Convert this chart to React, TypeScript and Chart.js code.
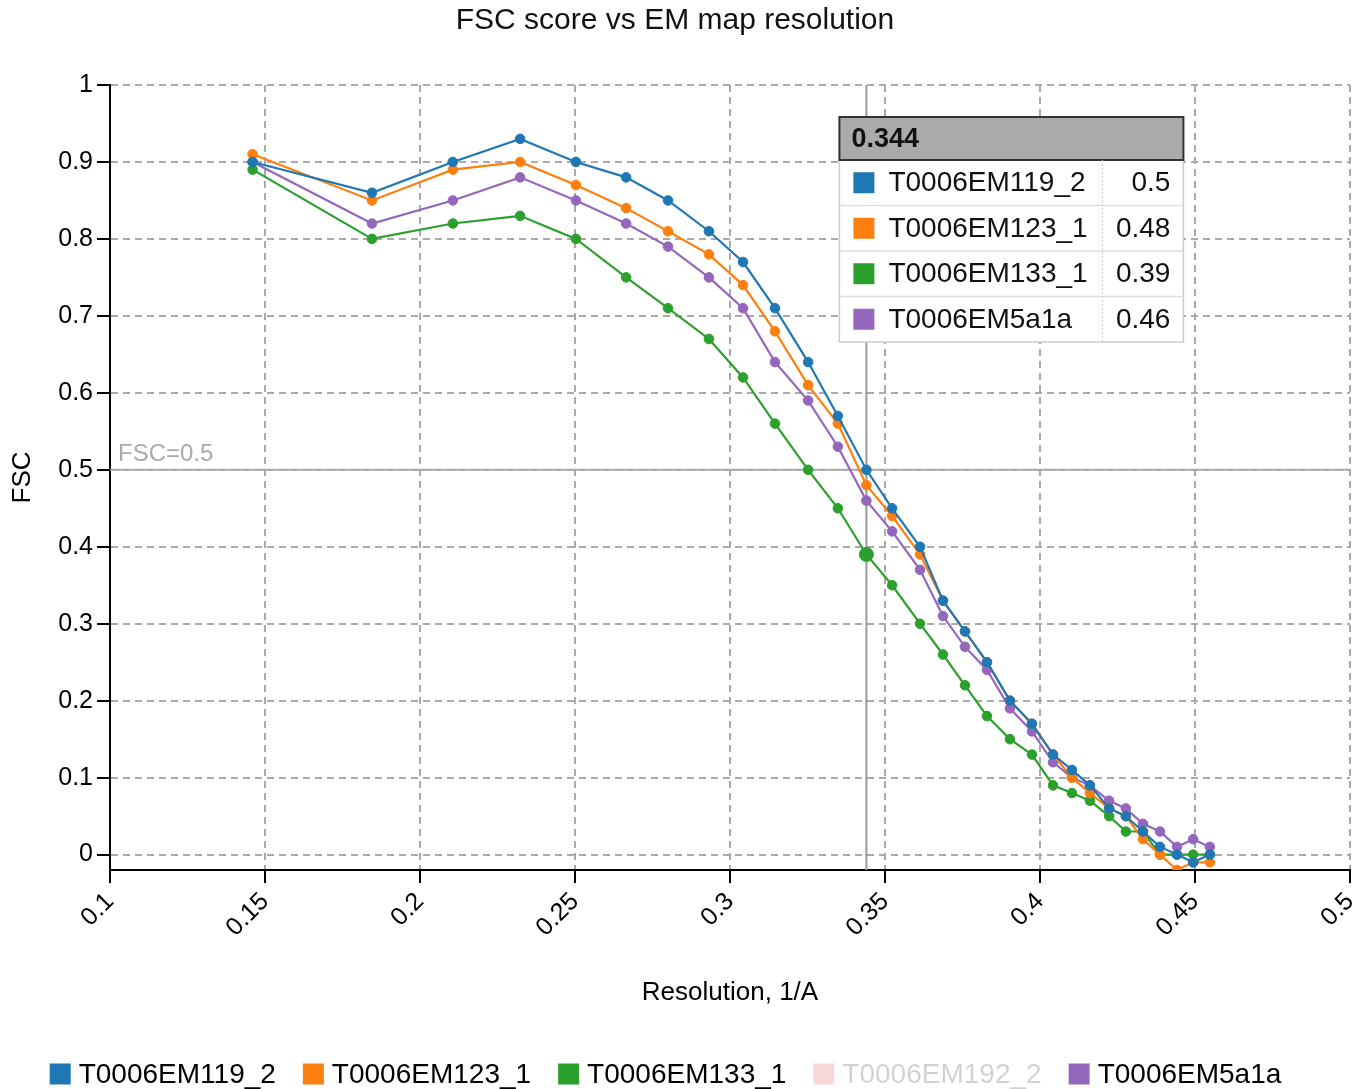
import React, { useEffect, useRef } from "react";
import { Chart, registerables } from "chart.js";

Chart.register(...registerables);

// ---- data ----
const resolution = [
  0.146, 0.1845, 0.2106, 0.2323, 0.2503, 0.2665, 0.28, 0.2932, 0.3042, 0.3145,
  0.3252, 0.3348, 0.344, 0.3523, 0.3613, 0.3687, 0.3758, 0.3829, 0.3903, 0.3974,
  0.4042, 0.4103, 0.4161, 0.4223, 0.4277, 0.4332, 0.4387, 0.4442, 0.4494, 0.4548,
];
const seriesNames = ["T0006EM119_2", "T0006EM123_1", "T0006EM133_1", "T0006EM192_2", "T0006EM5a1a"];
const seriesColors = ["#1f77b4", "#ff7f0e", "#2ca02c", "#d62728", "#9467bd"];
const em119_2 = [
  0.9, 0.86, 0.9, 0.93, 0.9, 0.88, 0.85, 0.81, 0.77, 0.71,
  0.64, 0.57, 0.5, 0.45, 0.4, 0.33, 0.29, 0.25, 0.2, 0.17,
  0.13, 0.11, 0.09, 0.06, 0.05, 0.03, 0.01, 0.0, -0.01, 0.0,
];
const em123_1 = [
  0.91, 0.85, 0.89, 0.9, 0.87, 0.84, 0.81, 0.78, 0.74, 0.68,
  0.61, 0.56, 0.48, 0.44, 0.39, 0.33, 0.29, 0.25, 0.2, 0.17,
  0.13, 0.1, 0.08, 0.06, 0.05, 0.02, 0.0, -0.02, -0.01, -0.01,
];
const em133_1 = [
  0.89, 0.8, 0.82, 0.83, 0.8, 0.75, 0.71, 0.67, 0.62, 0.56,
  0.5, 0.45, 0.39, 0.35, 0.3, 0.26, 0.22, 0.18, 0.15, 0.13,
  0.09, 0.08, 0.07, 0.05, 0.03, 0.03, 0.0, 0.0, 0.0, 0.0,
];
const em192_2: number[] = []; // hidden series (toggled off in the legend)
const em5a1a = [
  0.9, 0.82, 0.85, 0.88, 0.85, 0.82, 0.79, 0.75, 0.71, 0.64,
  0.59, 0.53, 0.46, 0.42, 0.37, 0.31, 0.27, 0.24, 0.19, 0.16,
  0.12, 0.1, 0.09, 0.07, 0.06, 0.04, 0.03, 0.01, 0.02, 0.01,
];
const seriesValues = [em119_2, em123_1, em133_1, em192_2, em5a1a];
const seriesHidden = [false, false, false, true, false];
const xTicks = [0.1, 0.15, 0.2, 0.25, 0.3, 0.35, 0.4, 0.45, 0.5];
const yTicks = [0, 0.1, 0.2, 0.3, 0.4, 0.5, 0.6, 0.7, 0.8, 0.9, 1];
const hoverIndex = 12;
const hoverSeries = 2;
const thresholdValue = 0.5;
const thresholdLabel = "FSC=0.5";
const chartTitle = "FSC score vs EM map resolution";
const xTitle = "Resolution, 1/A";
const yTitle = "FSC";

const FONT = "'Liberation Sans', Arial, Helvetica, sans-serif";

const fmt = (v: number) => String(+v.toFixed(3));

const refLinesPlugin = {
  id: "refLines",
  beforeDatasetsDraw(chart: any) {
    const { ctx, chartArea } = chart;
    const xs = chart.scales.x;
    const ys = chart.scales.y;
    ctx.save();
    const ty = ys.getPixelForValue(thresholdValue);
    ctx.strokeStyle = "#aaaaaa";
    ctx.lineWidth = 2;
    ctx.setLineDash([]);
    ctx.beginPath();
    ctx.moveTo(chartArea.left, ty);
    ctx.lineTo(chartArea.right, ty);
    ctx.stroke();
    ctx.fillStyle = "#aaaaaa";
    ctx.font = `24px ${FONT}`;
    ctx.textAlign = "left";
    ctx.textBaseline = "alphabetic";
    ctx.fillText(thresholdLabel, chartArea.left + 8, ty - 9);
    const fx = xs.getPixelForValue(resolution[hoverIndex]);
    ctx.strokeStyle = "#999999";
    ctx.beginPath();
    ctx.moveTo(fx, chartArea.top);
    ctx.lineTo(fx, chartArea.bottom);
    ctx.stroke();
    ctx.restore();
  },
};

const overlayPlugin = {
  id: "overlay",
  afterDraw(chart: any) {
    const { ctx, chartArea, width } = chart;
    const xs = chart.scales.x;
    ctx.save();
    // ---- tooltip table ----
    const fx = xs.getPixelForValue(resolution[hoverIndex]);
    const left = fx - 27;
    const top = chartArea.top + 32;
    const w = 344;
    const headH = 43;
    const rowH = 45.5;
    const rows = seriesNames
      .map((n, i) => ({ n, i }))
      .filter((r) => !seriesHidden[r.i]);
    const bodyTop = top + headH;
    const bodyH = rows.length * rowH;
    ctx.fillStyle = "#ffffff";
    ctx.fillRect(left, bodyTop, w, bodyH);
    ctx.strokeStyle = "#cccccc";
    ctx.lineWidth = 1.5;
    ctx.strokeRect(left, bodyTop, w, bodyH);
    ctx.fillStyle = "#aaaaaa";
    ctx.fillRect(left, top, w, headH);
    ctx.strokeStyle = "#333333";
    ctx.lineWidth = 2;
    ctx.strokeRect(left, top, w, headH);
    ctx.fillStyle = "#111111";
    ctx.font = `bold 27px ${FONT}`;
    ctx.textBaseline = "middle";
    ctx.textAlign = "left";
    ctx.fillText(resolution[hoverIndex].toFixed(3), left + 12, top + headH / 2 + 1);
    ctx.strokeStyle = "#cccccc";
    ctx.lineWidth = 1;
    ctx.setLineDash([2, 2]);
    ctx.beginPath();
    ctx.moveTo(left + 263, bodyTop);
    ctx.lineTo(left + 263, bodyTop + bodyH);
    ctx.stroke();
    ctx.setLineDash([]);
    rows.forEach((r, k) => {
      const ry = bodyTop + k * rowH;
      if (k > 0) {
        ctx.strokeStyle = "#dddddd";
        ctx.lineWidth = 1.5;
        ctx.beginPath();
        ctx.moveTo(left, ry);
        ctx.lineTo(left + w, ry);
        ctx.stroke();
      }
      const cy = ry + rowH / 2;
      ctx.fillStyle = seriesColors[r.i];
      ctx.fillRect(left + 14, cy - 10.5, 21, 21);
      ctx.fillStyle = "#111111";
      ctx.font = `28px ${FONT}`;
      ctx.textAlign = "left";
      ctx.fillText(r.n, left + 49, cy + 1);
      ctx.textAlign = "right";
      ctx.fillText(fmt(seriesValues[r.i][hoverIndex]), left + 331, cy + 1);
    });

    // ---- legend ----
    ctx.font = `28px ${FONT}`;
    const box = 21;
    const gap = 8;
    const spacing = 27;
    const widths = seriesNames.map((n) => ctx.measureText(n).width);
    const total =
      widths.reduce((a, b) => a + b + box + gap, 0) + spacing * (seriesNames.length - 1);
    let x = (width - total) / 2 - 19;
    const ly = 1074;
    seriesNames.forEach((n, i) => {
      const hidden = seriesHidden[i];
      ctx.globalAlpha = hidden ? 0.18 : 1;
      ctx.fillStyle = seriesColors[i];
      ctx.fillRect(x, ly - box / 2, box, box);
      ctx.fillStyle = "#000000";
      ctx.textAlign = "left";
      ctx.textBaseline = "middle";
      ctx.fillText(n, x + box + gap, ly + 1);
      x += box + gap + widths[i] + spacing;
    });
    ctx.globalAlpha = 1;
    ctx.restore();
  },
};

export default function App() {
  const ref = useRef<HTMLCanvasElement | null>(null);

  useEffect(() => {
    if (!ref.current) return;
    const datasets = seriesNames.map((name, si) => ({
      label: name,
      data: seriesValues[si].map((v, i) => ({ x: resolution[i], y: v })),
      hidden: seriesHidden[si],
      borderColor: seriesColors[si],
      backgroundColor: seriesColors[si],
      pointBackgroundColor: seriesColors[si],
      pointBorderColor: seriesColors[si],
      borderWidth: 2.2,
      pointBorderWidth: 1,
      pointRadius: (c: any) => (si === hoverSeries && c.dataIndex === hoverIndex ? 7 : 4.8),
      tension: 0,
      fill: false,
    }));

    const chart = new Chart(ref.current, {
      type: "line",
      data: { datasets },
      plugins: [refLinesPlugin, overlayPlugin],
      options: {
        animation: false,
        responsive: true,
        maintainAspectRatio: false,
        layout: { padding: { left: 0, right: 19, top: 0, bottom: 60 } },
        plugins: {
          legend: { display: false },
          tooltip: { enabled: false },
          title: {
            display: true,
            text: chartTitle,
            color: "#111111",
            font: { family: FONT, size: 30, weight: "normal" },
            padding: { top: 3, bottom: 46 },
          },
        },
        scales: {
          x: {
            type: "linear",
            position: "bottom",
            min: 0.1,
            max: 0.5,
            afterBuildTicks: (s: any) => {
              s.ticks = xTicks.map((v) => ({ value: v }));
            },
            afterFit: (s: any) => {
              s.height = 159;
              s.paddingRight = 0;
              s.paddingLeft = 0;
            },
            ticks: {
              autoSkip: false,
              maxRotation: 45,
              minRotation: 45,
              padding: 4,
              color: "#000000",
              font: { family: FONT, size: 25 },
              callback: (v: any) => fmt(Number(v)),
            },
            grid: {
              color: "#aaaaaa",
              lineWidth: 2,
              tickLength: 13,
              tickColor: "#000000",
              tickWidth: 2,
              tickBorderDash: [],
            },
            border: { display: true, color: "#000000", width: 2, dash: [7, 5] },
            title: {
              display: true,
              text: xTitle,
              color: "#000000",
              font: { family: FONT, size: 26 },
              padding: { top: 4, bottom: 21 },
            },
          },
          y: {
            type: "linear",
            min: -0.02,
            max: 1,
            afterBuildTicks: (s: any) => {
              s.ticks = yTicks.map((v) => ({ value: v }));
            },
            afterFit: (s: any) => {
              s.width = 110;
            },
            ticks: {
              padding: 4,
              color: "#000000",
              font: { family: FONT, size: 25 },
              callback: (v: any) => fmt(Number(v)),
            },
            grid: {
              color: "#aaaaaa",
              lineWidth: 2,
              tickLength: 13,
              tickColor: "#000000",
              tickWidth: 2,
              tickBorderDash: [],
            },
            border: { display: true, color: "#000000", width: 2, dash: [7, 5] },
            title: {
              display: true,
              text: yTitle,
              color: "#000000",
              font: { family: FONT, size: 26 },
              padding: { top: 7, bottom: 4 },
            },
          },
        },
      } as any,
    });
    return () => chart.destroy();
  }, []);

  return (
    <div style={{ position: "absolute", left: 0, top: 0, width: 1369, height: 1089 }}>
      <canvas ref={ref} />
    </div>
  );
}
